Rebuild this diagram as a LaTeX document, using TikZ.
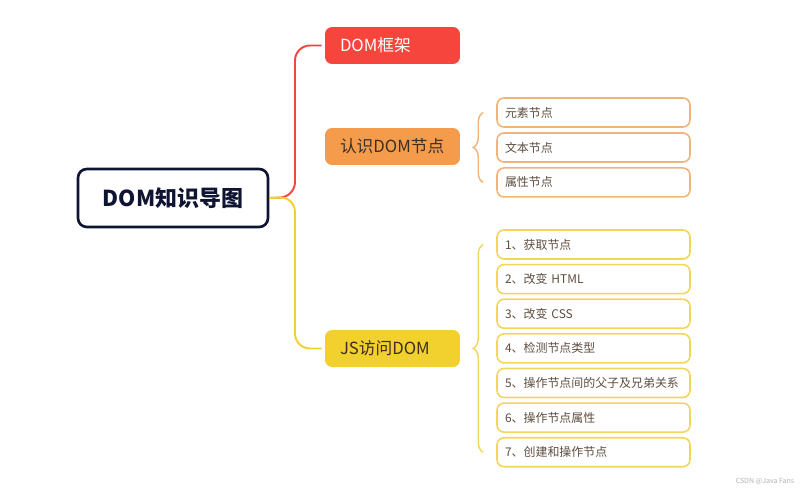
\documentclass[tikz,border=0pt]{standalone}
\usepackage{fontspec}
\setmainfont{Noto Sans CJK SC}
\usetikzlibrary{positioning,decorations.pathreplacing}
\definecolor{mred}{HTML}{F5453D}
\definecolor{morange}{HTML}{F59C4C}
\definecolor{myellow}{HTML}{F2D12E}
\definecolor{mnavy}{HTML}{101433}
\definecolor{mtext}{HTML}{3B2E22}
\definecolor{msub}{HTML}{5E4E40}
\definecolor{oline}{HTML}{F2B476}
\definecolor{yline}{HTML}{F2D65C}

\tikzset{
	topic/.style={rounded corners=4pt, text width=2.1cm, inner xsep=0.3cm, inner ysep=0pt,
		minimum height=0.74cm, align=left, font=\fontsize{9.5}{11}\selectfont, text=mtext},
	leaf/.style={draw, line width=0.9pt, rounded corners=4pt, fill=white, text width=3.54cm,
		inner xsep=0.16cm, inner ysep=0pt, minimum height=0.58cm, align=left,
		font=\fontsize{6.8}{8}\selectfont, text=msub},
	branch/.style={line width=1.1pt, rounded corners=0.3cm},
	curly/.style={decorate, decoration={brace, amplitude=0.2cm}, line width=0.8pt}
}

\begin{document}
\begin{tikzpicture}[x=0.02cm, y=-0.02cm]
	\useasboundingbox (0,0) rectangle (800,490);

	\node[draw=mnavy, line width=1.5pt, rounded corners=5pt, fill=white, minimum width=3.8cm,
		minimum height=1.16cm, font=\fontsize{12.5}{14}\selectfont\bfseries, text=mnavy] (root) at (173,198) {DOM知识导图};

	\node[topic, fill=mred, text=white] (frame) at (392.5,45.5) {DOM框架};
	\node[topic, fill=morange] (know) at (392.5,146.5) {认识DOM节点};
	\node[topic, fill=myellow] (js) at (392.5,348.5) {JS访问DOM};

	\coordinate (fork) at (295,197);
	\draw[branch, mred] (root.east) -- (fork) |- ([xshift=-0.06cm]frame.west);
	\draw[branch, myellow] (root.east) -- (fork) |- ([xshift=-0.06cm]js.west);

	% node types
	\node[leaf, draw=oline] (a1) at (593.5,112.5) {元素节点};
	\node[leaf, draw=oline, below=0.088cm of a1] (a2) {文本节点};
	\node[leaf, draw=oline, below=0.088cm of a2] (a3) {属性节点};
	\draw[curly, oline] ([xshift=-0.26cm]a3.west) -- ([xshift=-0.26cm]a1.west);

	% access
	\node[leaf, draw=yline] (b1) at (593.5,244.5) {1、获取节点};
	\node[leaf, draw=yline, below=0.081cm of b1] (b2) {2、改变 HTML};
	\node[leaf, draw=yline, below=0.081cm of b2] (b3) {3、改变 CSS};
	\node[leaf, draw=yline, below=0.081cm of b3] (b4) {4、检测节点类型};
	\node[leaf, draw=yline, below=0.081cm of b4] (b5) {5、操作节点间的父子及兄弟关系};
	\node[leaf, draw=yline, below=0.081cm of b5] (b6) {6、操作节点属性};
	\node[leaf, draw=yline, below=0.081cm of b6] (b7) {7、创建和操作节点};
	\draw[curly, yline] ([xshift=-0.26cm]b7.west) -- ([xshift=-0.26cm]b1.west);

	\node[font=\fontsize{4}{5}\selectfont, text=gray!60] (mark) at (765,481) {CSDN @Java Fans};
\end{tikzpicture}
\end{document}
